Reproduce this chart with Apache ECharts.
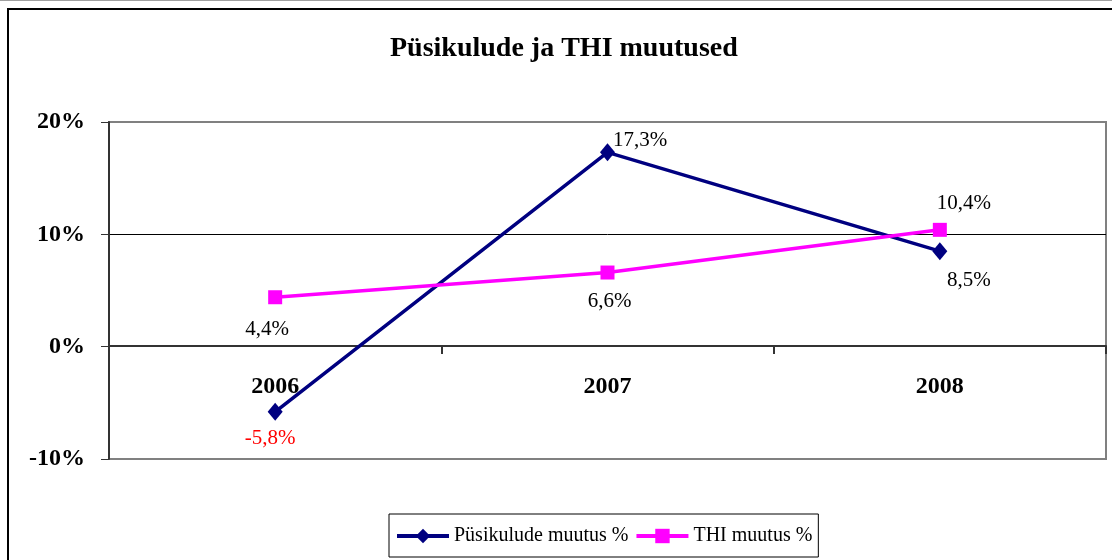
<!DOCTYPE html>
<html>
<head>
<meta charset="utf-8">
<script src="https://cdn.jsdelivr.net/npm/echarts@6/dist/echarts.min.js"></script>
<style>
  html, body { margin: 0; padding: 0; background: #fff; }
  #chart { width: 1112px; height: 560px; }
</style>
</head>
<body>
<div id="chart"></div>
<script>
const categories = ['2006', '2007', '2008']
const fixedCosts = [-5.8, 17.3, 8.5]
const thiChange = [4.4, 6.6, 10.4]
const yTicks = { min: -10, max: 20, step: 10 }

const serif = "'Liberation Serif', 'Times New Roman', serif"
const fmt = v => v.toFixed(1).replace('.', ',') + '%'

// where each value label sits relative to its point
const fixedLabelPos = [
  { position: 'bottom', distance: 7, offset: [-5, 0], color: '#ff0000' },
  { position: 'right', distance: 0, offset: [-2, -12] },
  { position: 'bottom', distance: 10, offset: [29, 0] }
]
const thiLabelPos = [
  { position: 'bottom', distance: 15, offset: [-8, 0] },
  { position: 'bottom', distance: 11, offset: [2, 0] },
  { position: 'top', distance: 9, offset: [24, 0] }
]

const withLabels = (values, pos) =>
  values.map((v, i) => ({ value: v, label: pos[i] }))

const chart = echarts.init(document.getElementById('chart'))
chart.setOption({
  animation: false,
  backgroundColor: '#fff',
  graphic: [
    { type: 'line', shape: { x1: 0, y1: 0.5, x2: 1112, y2: 0.5 }, style: { stroke: '#a0a0a0', lineWidth: 1 } },
    { type: 'rect', shape: { x: 8, y: 9, width: 1200, height: 700 }, style: { fill: null, stroke: '#000', lineWidth: 2 } }
  ],
  title: {
    text: 'Püsikulude ja THI muutused',
    left: 390,
    top: 35,
    padding: 0,
    textStyle: { fontFamily: serif, fontSize: 28, fontWeight: 'bold', color: '#000' }
  },
  legend: {
    left: 389,
    top: 514,
    padding: [12, 6, 11, 6],
    itemGap: 6,
    itemWidth: 52,
    itemHeight: 18,
    borderColor: '#000',
    borderWidth: 1,
    lineStyle: { width: 4 },
    textStyle: { fontFamily: serif, fontSize: 20, color: '#000' },
    data: ['Püsikulude muutus %', 'THI muutus %']
  },
  grid: {
    left: 109, right: 6, top: 122, bottom: 101,
    show: true, borderColor: '#808080', borderWidth: 2
  },
  xAxis: {
    type: 'category',
    data: categories,
    position: 'bottom',
    offset: -113,
    axisLine: { onZero: false, lineStyle: { color: '#333', width: 2 } },
    axisTick: { show: true, length: 8, lineStyle: { color: '#333', width: 2 } },
    axisLabel: { margin: 29, fontFamily: serif, fontSize: 24, fontWeight: 'bold', color: '#000' },
    splitLine: { show: false }
  },
  yAxis: {
    type: 'value',
    min: yTicks.min,
    max: yTicks.max,
    interval: yTicks.step,
    axisLine: { show: true, lineStyle: { color: '#333', width: 2 } },
    axisTick: { show: true, length: 8, lineStyle: { color: '#333' } },
    axisLabel: { margin: 24, formatter: '{value}%', fontFamily: serif, fontSize: 24, fontWeight: 'bold', color: '#000' },
    splitLine: { lineStyle: { color: ['#808080', '#000', '#000', '#808080'], width: 1 } }
  },
  series: [
    {
      name: 'Püsikulude muutus %',
      type: 'line',
      data: withLabels(fixedCosts, fixedLabelPos),
      symbol: 'diamond',
      symbolSize: [15, 18],
      lineStyle: { color: '#000080', width: 3.5 },
      itemStyle: { color: '#000080' },
      label: { show: true, formatter: p => fmt(p.value), fontFamily: serif, fontSize: 21, color: '#000' }
    },
    {
      name: 'THI muutus %',
      type: 'line',
      data: withLabels(thiChange, thiLabelPos),
      symbol: 'rect',
      symbolSize: 14,
      lineStyle: { color: '#ff00ff', width: 3.5 },
      itemStyle: { color: '#ff00ff' },
      label: { show: true, formatter: p => fmt(p.value), fontFamily: serif, fontSize: 21, color: '#000' }
    }
  ]
})
</script>
</body>
</html>
